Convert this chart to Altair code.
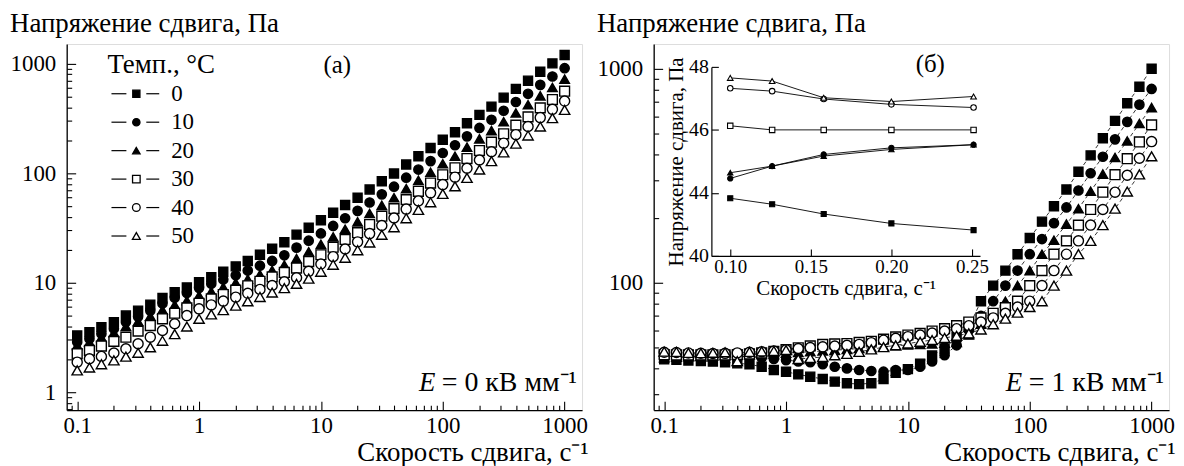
import altair as alt
import pandas as pd

FONT = "Liberation Serif"

shear_rate = [0.1, 0.126, 0.158, 0.2, 0.251, 0.316, 0.398, 0.501, 0.631, 0.794,
              1, 1.26, 1.58, 2, 2.51, 3.16, 3.98, 5.01, 6.31, 7.94,
              10, 12.6, 15.8, 20, 25.1, 31.6, 39.8, 50.1, 63.1, 79.4,
              100, 126, 158, 200, 251, 316, 398, 501, 631, 794, 1000]
temps = ["0", "10", "20", "30", "40", "50"]

# panel (a): E = 0 kV/mm
a_t0 = [3.30, 3.53, 3.93, 4.36, 5.01, 5.56, 6.31, 7.26, 8.17, 9.06, 10.1, 11.2, 12.6, 14.1, 15.8, 18.0, 20.4,
        23.4, 27.5, 31.8, 37.2, 43.6, 51.2, 59.7, 71.1, 84.5, 99.3, 120, 143, 170, 202, 237, 286, 341, 406,
        490, 589, 700, 845, 1007, 1200]
a_t10 = [2.87, 3.08, 3.42, 3.79, 4.37, 4.90, 5.56, 6.47, 7.28, 8.07, 8.97, 9.77, 10.7, 11.7, 12.9, 14.3, 15.8,
         17.8, 20.9, 24.2, 28.2, 33.0, 38.8, 45.3, 54.0, 64.1, 75.3, 91.0, 108, 129, 153, 180, 217, 259, 308,
         372, 447, 531, 641, 764, 910]
a_t20 = [2.68, 2.87, 3.16, 3.50, 3.98, 4.42, 4.95, 5.64, 6.27, 6.87, 7.64, 8.32, 9.12, 10.0, 10.8, 11.9, 13.0,
         14.5, 16.6, 19.2, 22.4, 26.2, 30.8, 36.0, 42.9, 50.9, 59.8, 72.3, 86.1, 102, 122, 143, 173, 206, 245,
         295, 355, 422, 509, 607, 723]
a_t30 = [2.25, 2.41, 2.64, 2.91, 3.18, 3.61, 4.06, 4.68, 5.26, 5.89, 6.49, 7.11, 7.80, 8.55, 9.38, 10.3, 11.3,
         12.4, 13.6, 15.6, 18.0, 21.1, 24.8, 28.6, 34.0, 40.5, 47.5, 57.4, 68.4, 81.3, 96.8, 112, 136, 161, 192,
         229, 275, 327, 395, 471, 561]
a_t40 = [1.88, 2.02, 2.12, 2.28, 2.49, 2.77, 3.18, 3.66, 4.22, 5.01, 5.77, 6.27, 6.79, 7.38, 8.00, 8.69, 9.42,
         10.2, 11.1, 12.7, 14.8, 17.3, 20.3, 23.6, 28.1, 33.3, 39.0, 47.0, 55.8, 66.2, 78.7, 92.0, 111, 132, 157,
         188, 225, 267, 322, 383, 456]
a_t50 = [1.58, 1.68, 1.80, 1.95, 2.11, 2.29, 2.57, 2.95, 3.39, 3.98, 4.68, 5.13, 5.62, 6.17, 6.76, 7.41, 8.13,
         8.91, 9.77, 10.9, 12.6, 14.6, 16.9, 19.8, 23.3, 27.4, 32.1, 38.8, 46.2, 54.3, 64.7, 75.9, 90.6, 108, 129,
         155, 186, 221, 267, 318, 379]

# panel (b): E = 1 kV/mm
b_t0 = [43.83, 43.64, 43.33, 43.03, 42.82, 42.5, 42.0, 41.6, 40.5, 39.1, 38.4, 37.3, 36.4, 35.5, 34.5, 33.9,
        33.6, 33.9, 35.5, 38.0, 39.5, 41.9, 45.7, 49.3, 55.7, 62, 82, 97, 114, 136, 162, 193, 228, 273, 330,
        394, 474, 571, 690, 824, 1000]
b_t10 = [44.46, 44.85, 45.22, 45.43, 45.53, 45.4, 45.2, 45.0, 44.6, 44.1, 43.5, 42.9, 42.5, 41.6, 40.5, 39.8,
         39.1, 38.7, 38.4, 39.1, 39.1, 40.5, 42.9, 45.9, 51, 60, 70, 82, 97, 114, 136, 160, 190, 225, 270, 325,
         388, 468, 565, 680, 805]
b_t20 = [44.64, 44.85, 45.17, 45.38, 45.53, 45.7, 45.9, 46.1, 46.3, 46.6, 46.9, 47.2, 47.6, 48.0, 48.4, 48.8,
         49.3, 49.8, 50.3, 50.8, 51.2, 51.5, 51.8, 52.2, 52.7, 57, 64, 72, 82, 97, 114, 136, 158, 188, 222, 268,
         322, 385, 460, 555, 659]
b_t30 = [46.13, 46.0, 46.0, 46.0, 46.0, 46.0, 46.2, 46.5, 47.0, 47.8, 48.7, 49.7, 50.7, 51.5, 51.8, 52.0,
         52.6, 53.3, 54.5, 55.8, 57, 58, 59.5, 61, 63, 65.5, 68.5, 72, 76.5, 82, 97, 114, 136, 157, 186, 220,
         265, 320, 380, 455, 547]
b_t40 = [47.32, 47.23, 46.98, 46.81, 46.71, 46.8, 47.0, 47.3, 47.6, 48.0, 48.6, 49.3, 49.8, 50.2, 50.6, 51.0,
         51.5, 52.5, 53.9, 55.0, 56.0, 57.0, 58.2, 59.5, 61, 63, 65.5, 68.5, 72, 77, 82, 97, 114, 136, 157, 186,
         220, 265, 318, 382, 457]
b_t50 = [47.65, 47.55, 47.02, 46.9, 47.06, 47.3, 43.0, 47.5, 47.8, 48.0, 48.5, 44.0, 44.5, 45.0, 45.8, 46.5,
         47.5, 48.8, 50.0, 51.0, 52.0, 53.0, 54.0, 55.2, 56.5, 58, 60.5, 64, 68, 72.5, 77, 82, 97, 114, 136, 157,
         186, 222, 267, 321, 390]

inset_n = 5  # the inset repeats the first five shear rates of panel (b)

x_major = [0.1, 1, 10, 100, 1000]
x_minor = [0.09, 0.2, 0.3, 0.4, 0.5, 0.6, 0.7, 0.8, 0.9, 2, 3, 4, 5, 6, 7, 8, 9,
           20, 30, 40, 50, 60, 70, 80, 90, 200, 300, 400, 500, 600, 700, 800, 900]
ya_major = [1, 10, 100, 1000]
ya_minor = [0.7, 0.8, 0.9, 2, 3, 4, 5, 6, 7, 8, 9, 20, 30, 40, 50, 60, 70, 80, 90,
            200, 300, 400, 500, 600, 700, 800, 900]
yb_major = [100, 1000]
yb_minor = [30, 40, 50, 60, 70, 80, 90, 200, 300, 400, 500, 600, 700, 800, 900]
inset_x_ticks = [0.10, 0.15, 0.20, 0.25]
inset_y_ticks = [42, 44, 46, 48]

Y_TITLE = "Напряжение сдвига, Па"
X_TITLE = "Скорость сдвига, с⁻¹"
LEGEND_TITLE = "Темп., °C"

# ---------------------------------------------------------------- data tables
def long(series):
    rows = []
    for t, vals in zip(temps, series):
        for k, (x, v) in enumerate(zip(shear_rate, vals)):
            rows.append({"temp": t, "order": temps.index(t), "k": k, "x": x, "y": v})
    return pd.DataFrame(rows)

df_a = long([a_t0, a_t10, a_t20, a_t30, a_t40, a_t50])
df_b = long([b_t0, b_t10, b_t20, b_t30, b_t40, b_t50])
df_in = df_b[df_b["k"] < inset_n].reset_index(drop=True)
df_leg = pd.DataFrame({"temp": temps})

W, H = 518, 368
x_scale = alt.Scale(type="log", domain=[0.082, 1390], nice=False)
ya_scale = alt.Scale(type="log", domain=[0.686, 1514], nice=False)
yb_scale = alt.Scale(type="log", domain=[25.4, 1306], nice=False)

shape_scale = alt.Scale(domain=temps, range=["square", "circle", "triangle-up", "square", "circle", "triangle-up"])
fill_scale = alt.Scale(domain=temps, range=["black", "black", "black", "white", "white", "white"])
size_scale = alt.Scale(domain=temps, range=[82, 108, 145, 82, 108, 145])

LBL = dict(labelFont=FONT, labelFontSize=23, labelColor="black", grid=False)
TTL = dict(titleFont=FONT, titleFontSize=27, titleFontWeight="normal", titleColor="black")


def label_axes(y_vals):
    ax_x = alt.Axis(values=x_major, format="~g", ticks=False, tickSize=0, domainColor="black", domainWidth=1.3,
                    labelPadding=4, title=X_TITLE, titleAlign="right", titleX=W + 6, titleY=43,
                    titleBaseline="middle", labelFlush=False, orient="bottom", **LBL, **TTL)
    ax_y = alt.Axis(values=y_vals, format="~g", ticks=False, tickSize=0, domainColor="black", domainWidth=1.3,
                    labelPadding=11, title=None, labelFlush=False, orient="left", **LBL)
    return ax_x, ax_y


def tick_layer(df, yscale, xv, yv, size):
    ax_x = alt.Axis(values=xv, labels=False, domain=False, ticks=True, tickSize=size, offset=-size,
                    tickColor="black", tickWidth=1.1, title=None, grid=False, orient="bottom")
    ax_y = alt.Axis(values=yv, labels=False, domain=False, ticks=True, tickSize=size, offset=-size,
                    tickColor="black", tickWidth=1.1, title=None, grid=False, orient="left")
    return alt.Chart(df).transform_filter("datum.x < 0").mark_point(opacity=0).encode(
        x=alt.X("x:Q", scale=x_scale, axis=ax_x),
        y=alt.Y("y:Q", scale=yscale, axis=ax_y),
    )


def points(df, yscale, axes):
    ax_x, ax_y = axes
    return alt.Chart(df).mark_point(opacity=1, stroke="black", strokeWidth=1.4, fillOpacity=1).encode(
        x=alt.X("x:Q", scale=x_scale, axis=ax_x),
        y=alt.Y("y:Q", scale=yscale, axis=ax_y),
        shape=alt.Shape("temp:N", scale=shape_scale, legend=None),
        fill=alt.Fill("temp:N", scale=fill_scale, legend=None),
        size=alt.Size("temp:O", scale=size_scale, legend=None),
        order=alt.Order("order:Q"),
    )


def text_layer(txt, x, y, size=27, style="normal", align="left"):
    return alt.Chart(pd.DataFrame({"t": [txt]})).mark_text(
        font=FONT, fontSize=size, fontStyle=style, align=align, baseline="middle", color="black"
    ).encode(text="t:N", x=alt.value(x), y=alt.value(y))


# ---------------------------------------------------------------- legend (panel a)
leg_y = alt.Y("temp:N", scale=alt.Scale(type="point", domain=temps, range=[50, 193], padding=0), axis=None)
leg_line_l = alt.Chart(df_leg).mark_rule(color="black", strokeWidth=1.2).encode(
    x=alt.value(45), x2=alt.value(60), y=leg_y)
leg_line_r = alt.Chart(df_leg).mark_rule(color="black", strokeWidth=1.2).encode(
    x=alt.value(80), x2=alt.value(93), y=leg_y)
leg_pts = alt.Chart(df_leg).mark_point(opacity=1, stroke="black", strokeWidth=1.3, fillOpacity=1).encode(
    x=alt.value(70), y=leg_y,
    shape=alt.Shape("temp:N", scale=shape_scale, legend=None),
    fill=alt.Fill("temp:N", scale=fill_scale, legend=None),
    size=alt.Size("temp:O", scale=alt.Scale(domain=temps, range=[52, 62, 80, 52, 62, 80]), legend=None),
)
leg_lbl = alt.Chart(df_leg).mark_text(font=FONT, fontSize=23, align="left", baseline="middle", color="black").encode(
    x=alt.value(105), y=leg_y, text="temp:N")
legend_a = alt.layer(leg_line_l, leg_line_r, leg_pts, leg_lbl, text_layer(LEGEND_TITLE, 41, 21, 27))

core_a = alt.layer(
    points(df_a, ya_scale, label_axes(ya_major)),
    tick_layer(df_a, ya_scale, x_minor, ya_minor, 5),
    tick_layer(df_a, ya_scale, x_major, ya_major, 9),
).resolve_axis(x="independent", y="independent")

panel_a = alt.layer(
    core_a,
    legend_a,
    text_layer(Y_TITLE, -57, -20, 27),
    text_layer("(а)", 272, 21, 25, align="center"),
    text_layer("E", 354, 341, 27, "italic"),
    text_layer("= 0 кВ мм⁻¹", 377, 341, 28),
).resolve_scale(y="independent", size="independent").properties(width=W, height=H)

# ---------------------------------------------------------------- panel (b)
lines_b = alt.Chart(df_b).mark_line(color="black", strokeWidth=0.8, strokeDash=[4, 3]).encode(
    x=alt.X("x:Q", scale=x_scale, axis=None),
    y=alt.Y("y:Q", scale=yb_scale, axis=None),
    detail="temp:N",
    order=alt.Order("k:Q"),
)
main_b = alt.layer(
    lines_b,
    points(df_b, yb_scale, label_axes(yb_major)),
    tick_layer(df_b, yb_scale, x_minor, yb_minor, 5),
    tick_layer(df_b, yb_scale, x_major, yb_major, 9),
).resolve_axis(x="independent", y="independent")

in_x = alt.Scale(type="linear", domain=[0.0883, 0.255], range=[58, 328], nice=False, zero=False)
in_y = alt.Scale(type="linear", domain=[42, 48], range=[213, 23], nice=False, zero=False)
INL = dict(labelFont=FONT, labelFontSize=19, labelColor="black", grid=False)
INT = dict(titleFont=FONT, titleFontSize=21, titleFontWeight="normal", titleColor="black")
in_ax_x = alt.Axis(values=inset_x_ticks, format=".2f", orient="bottom", offset=-155, ticks=False, tickSize=0,
                   domainColor="black", domainWidth=1.2, labelPadding=2, title=X_TITLE,
                   titlePadding=1, **INL, **INT)
in_ax_y = alt.Axis(values=inset_y_ticks, labelExpr="datum.value == 42 ? '40' : datum.label", orient="left",
                   offset=-58, ticks=False, tickSize=0, domainColor="black", domainWidth=1.2, labelPadding=3,
                   title=Y_TITLE, titlePadding=2, labelFont=FONT, labelFontSize=20, labelColor="black",
                   grid=False, **INT)
in_tk_x = alt.Axis(values=inset_x_ticks, labels=False, domain=False, tickSize=7, offset=-162, tickColor="black",
                   tickWidth=1.1, title=None, grid=False, orient="bottom")
in_tk_y = alt.Axis(values=inset_y_ticks, labels=False, domain=False, tickSize=7, offset=-65, tickColor="black",
                   tickWidth=1.1, title=None, grid=False, orient="left")
in_lines = alt.Chart(df_in).mark_line(color="black", strokeWidth=0.9).encode(
    x=alt.X("x:Q", scale=in_x, axis=in_ax_x),
    y=alt.Y("y:Q", scale=in_y, axis=in_ax_y),
    detail="temp:N",
    order=alt.Order("k:Q"),
)
in_points = alt.Chart(df_in).mark_point(opacity=1, stroke="black", strokeWidth=1.1, fillOpacity=1).encode(
    x=alt.X("x:Q", scale=in_x, axis=None),
    y=alt.Y("y:Q", scale=in_y, axis=None),
    shape=alt.Shape("temp:N", scale=shape_scale, legend=None),
    fill=alt.Fill("temp:N", scale=fill_scale, legend=None),
    size=alt.Size("temp:O", scale=alt.Scale(domain=temps, range=[26, 32, 42, 26, 32, 42]), legend=None),
    order=alt.Order("order:Q"),
)
in_ticks = alt.Chart(df_in).transform_filter("datum.x < 0").mark_point(opacity=0).encode(
    x=alt.X("x:Q", scale=in_x, axis=in_tk_x),
    y=alt.Y("y:Q", scale=in_y, axis=in_tk_y),
)
inset = alt.layer(in_lines, in_points, in_ticks).resolve_axis(x="independent", y="independent")

panel_b = alt.layer(
    main_b,
    inset,
    text_layer(Y_TITLE, -57, -20, 27),
    text_layer("(б)", 278, 20, 25, align="center"),
    text_layer("E", 354, 341, 27, "italic"),
    text_layer("= 1 кВ мм⁻¹", 377, 341, 28),
).resolve_scale(x="independent", y="independent", size="independent").properties(width=W, height=H)

chart = alt.hconcat(panel_a, panel_b, spacing=7).properties(
    padding={"left": 1, "top": 0, "right": 0, "bottom": 0}
).configure_view(stroke=None).configure(font=FONT)

chart.save("out.html", embed_options={"renderer": "svg", "actions": False})
